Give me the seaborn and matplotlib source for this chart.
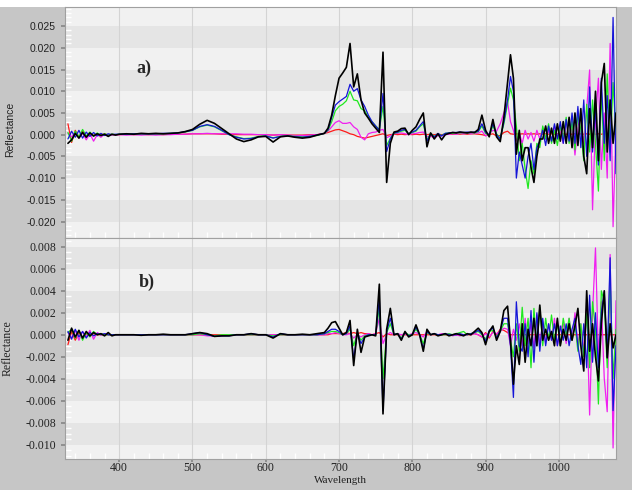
import numpy as np
import matplotlib
matplotlib.use("Agg")
import matplotlib.pyplot as plt
import seaborn as sns
from matplotlib.ticker import FormatStrFormatter, MultipleLocator

# Wavelength grid (nm): coarse where the spectra are flat, finer where they are noisy
wavelength = np.concatenate([np.arange(330, 400, 5), np.arange(400, 680, 10),
                             np.arange(680, 930, 5), np.arange(930, 1080, 4)])

# ---- panel a) first derivative, values in units of 1e-3 ----
a_black = [-2.0, -1.2, 0.3, -0.8, 0.5, -0.6, 0.4, -0.3, 0.2, -0.2, 0.1, -0.4, 0.1, -0.1,
           0.1, 0.2, 0.1, 0.3, 0.2, 0.3, 0.2, 0.3, 0.4, 0.7,
           1.2, 2.4, 3.3, 2.6, 1.4, 0.2, -1.0, -1.6, -1.2, -0.5,
           -0.4, -1.7, -0.5, -0.3, -0.6, -0.8, -0.6, -0.1,
           0.3, 1.5, 4.5, 9.0, 13.0, 14.2, 15.5, 21.0, 11.0, 14.0,
           8.0, 5.0, 3.8, 2.5, 1.5, 0.5, 19.0, -11.0, -2.0, 0.6,
           0.8, 1.4, 1.5, 0.0, 1.0, 1.8, 3.5, 5.0, -2.8, 0.4,
           -1.0, 0.2, -1.2, 0.0, 0.3, 0.5, 0.4, 0.6, 0.5, 0.4,
           0.6, 0.5, 1.2, 4.5, 1.0, -0.5, 3.5, -0.5, -1.6, 4.0,
           12.0, 18.4, 13.0, -4.5, 1.0, -6.0, -3.0, -3.0, -7.5, -11.0,
           -5.0, -1.0, -1.0, 2.0, -2.0, 1.5, -2.0, 2.5, -1.5, 3.0,
           -2.0, 4.0, -3.0, 5.0, -2.5, 6.0, -5.0, -9.0, 6.0, -3.0,
           10.0, -6.0, 12.0, 16.4, -4.0, 8.0, -2.0, 5.0]
a_blue = [-1.0, 0.8, -0.6, 1.0, -0.8, 0.6, -0.4, 0.5, -0.3, 0.3, -0.2, 0.2, 0.0, 0.1,
          0.1, 0.1, 0.2, 0.2, 0.2, 0.2, 0.3, 0.3, 0.4, 0.7,
          1.0, 1.9, 2.3, 1.9, 1.0, 0.0, -0.6, -1.0, -0.9, -0.5,
          -0.3, -0.8, -0.4, -0.3, -0.5, -0.6, -0.4, -0.1,
          0.3, 1.2, 4.0, 6.8, 7.6, 8.2, 8.8, 11.6, 10.0, 10.6,
          8.0, 6.5, 4.5, 3.0, 2.0, 1.0, 9.5, -3.9, -1.0, 0.4,
          0.6, 1.0, 1.2, 0.2, 0.6, 1.0, 2.0, 3.0, -1.5, 0.2,
          -0.5, 0.3, -0.3, 0.3, 0.4, 0.5, 0.5, 0.6, 0.5, 0.6,
          0.5, 0.6, 0.8, 2.5, 0.5, 0.0, 2.5, 0.0, -1.0, 3.0,
          8.0, 13.4, 10.0, -10.0, -4.0, -7.0, -10.0, -5.0, -2.0, -8.0,
          -3.0, -1.5, 1.0, -2.5, 2.0, -1.5, 2.5, -1.0, 3.0, -2.0,
          3.5, -1.5, 5.0, -2.0, 6.5, -3.0, 8.0, -5.0, 11.0, -4.0,
          6.0, -7.0, 13.0, -2.0, 9.0, -6.0, 27.0, -9.0]
a_green = [0.5, -1.5, 0.8, -0.5, 1.2, -0.3, 0.6, -0.4, 0.4, -0.2, 0.2, -0.1, 0.1, 0.0,
           0.1, 0.1, 0.2, 0.2, 0.2, 0.2, 0.2, 0.3, 0.4, 0.6,
           1.0, 1.8, 2.2, 1.8, 0.9, 0.0, -0.5, -0.9, -0.8, -0.4,
           -0.3, -0.7, -0.4, -0.3, -0.4, -0.5, -0.4, -0.2,
           0.3, 1.0, 3.0, 5.5, 6.5, 7.0, 7.8, 10.0, 8.0, 7.8,
           6.0, 5.5, 4.0, 3.0, 2.0, 1.2, 6.5, -2.5, -0.8, 0.3,
           0.5, 0.8, 1.0, 0.2, 0.5, 0.8, 1.8, 2.5, -1.2, 0.3,
           -0.4, 0.2, -0.2, 0.3, 0.4, 0.3, 0.5, 0.4, 0.5, 0.4,
           0.5, 0.4, 0.7, 2.0, 0.3, -0.2, 2.0, 0.2, -0.8, 2.5,
           7.0, 10.7, 8.0, 2.0, -6.0, -2.0, -8.0, -12.4, -6.0, -9.0,
           -2.0, -3.0, 2.0, -1.0, 2.5, -2.0, 1.0, -2.5, 2.0, -1.0,
           4.0, -2.0, 3.0, -3.5, 5.0, 1.0, -6.0, 7.0, -4.0, 8.0,
           -2.0, -13.0, 10.0, -6.0, 14.0, -4.0, 12.0, 0.0]
a_magenta = [0.3, -0.5, 0.6, -0.8, 0.4, -1.2, 0.2, -1.5, 0.0, -0.6, 0.1, -0.3, 0.0, -0.1,
             0.0, -0.1, 0.0, -0.1, 0.0, -0.1, 0.0, 0.0, 0.1, 0.1,
             0.2, 0.2, 0.3, 0.2, 0.2, 0.2, 0.2, 0.1, 0.1, 0.0,
             0.0, -0.1, 0.0, -0.1, -0.2, -0.2, -0.1, 0.0,
             0.3, 0.8, 1.8, 2.8, 3.2, 2.6, 2.6, 2.8, 1.8, 1.2,
             -0.6, -1.2, 0.2, 0.5, 0.6, 1.0, 1.2, -0.7, -0.3, 0.2,
             0.3, 0.4, 0.2, 0.0, 0.2, 0.3, 0.5, 0.6, -0.5, -0.3,
             -0.8, -0.2, -0.3, 0.0, 0.1, 0.2, 0.1, 0.3, 0.2, 0.3,
             0.2, 0.3, 0.4, 0.8, -0.3, 0.2, 1.0, 0.8, 2.5, 5.0,
             7.6, 3.0, 1.0, -1.5, 0.5, -2.0, 1.0, -1.0, 0.5, -1.5,
             1.0, -1.0, 1.5, -1.0, 1.0, -1.5, 2.0, -1.0, 1.0, -2.0,
             3.0, -1.0, 2.0, -4.7, 2.0, 4.0, -2.0, 6.0, 14.9, -17.3,
             3.0, 13.0, -8.0, 5.0, -10.0, 21.0, -21.2, 2.0]
a_red = [2.5, -1.8, 1.0, -0.6, 0.8, -0.4, 0.3, -0.2, 0.1, 0.0, 0.1, 0.0, 0.0, 0.0,
         0.0, 0.1, 0.0, 0.1, 0.0, 0.1, 0.0, 0.1, 0.1, 0.1,
         0.2, 0.2, 0.2, 0.2, 0.1, 0.1, 0.0, 0.0, 0.0, 0.0,
         0.0, -0.1, 0.0, -0.1, -0.1, -0.1, 0.0, 0.0,
         0.3, 0.5, 0.8, 1.1, 1.2, 0.9, 0.6, 0.2, 0.0, -0.4,
         -0.6, -0.8, -0.6, -0.4, -0.2, 0.0, 0.2, -0.2, 0.0, 0.1,
         0.0, 0.1, 0.0, 0.1, 0.0, 0.1, 0.0, 0.1, 0.0, 0.1,
         0.0, 0.1, 0.0, 0.1, 0.2, 0.1, 0.2, 0.1, 0.2, 0.1,
         0.2, 0.2, 0.1, 0.0, -0.2, 0.0, 0.2, -0.3, -0.2, 0.5,
         0.8, 0.2, 0.1, 0.2, 0.1, 0.2, 0.1, 0.2, 0.1, 0.2,
         0.1, 0.2, 0.1, 0.2, 0.1, 0.2, 0.1, 0.2, 0.1, 0.2,
         0.1, 0.2, 0.1, 0.2, 0.1, 0.2, 0.1, 0.2, 0.1, 0.2,
         0.1, 0.2, 0.1, 0.2, 0.1, 0.2, 0.1, 0.2]

# ---- panel b) second derivative, values in units of 1e-3 ----
b_black = [-0.5, 0.6, -0.2, 0.4, -0.3, 0.3, -0.1, 0.2, 0.0, 0.1, -0.1, 0.2, -0.1, 0.0,
           0.0, 0.0, 0.0, -0.05, 0.0, 0.0, 0.05, 0.0, 0.0, 0.0,
           0.1, 0.2, 0.1, -0.15, -0.1, -0.1, 0.0, 0.0, 0.1, 0.0,
           0.0, -0.3, 0.1, 0.0, 0.0, 0.05, 0.0, 0.1,
           0.2, 0.6, 1.1, 1.2, 0.6, 0.0, 0.2, 1.3, -2.8, 0.5,
           -1.6, -0.2, -0.1, 0.0, -0.1, 4.6, -7.2, 0.5, 2.4, 0.0,
           0.1, -0.5, 0.3, -0.2, 0.0, 0.9, 0.0, -1.5, 0.5, 0.0,
           0.1, -0.1, 0.0, 0.1, -0.1, 0.0, 0.1, 0.0, -0.1, 0.1,
           0.0, 0.3, 0.6, 0.2, -0.9, 0.3, 0.8, -0.5, 0.3, 2.2,
           2.6, -0.5, -4.5, -1.0, -2.7, 1.0, -2.5, 0.5, -1.0, 1.5,
           -1.0, 2.7, -0.5, 0.5, -0.5, 0.3, -1.0, 1.5, -1.0, 0.5,
           -0.5, 1.0, -0.5, 0.8, 2.4, -1.0, -3.3, 4.0, -1.5, 1.0,
           -2.0, -4.2, 1.0, 4.0, -2.1, 1.0, -1.2, 0.0]
b_blue = [0.3, -0.4, 0.5, -0.2, 0.3, -0.3, 0.2, -0.1, 0.1, 0.0, 0.1, 0.0, 0.0, 0.0,
          0.0, 0.0, 0.0, 0.0, 0.0, 0.0, 0.0, 0.0, 0.0, 0.0,
          0.1, 0.2, 0.0, -0.15, -0.1, -0.1, 0.0, 0.0, 0.1, 0.0,
          0.0, -0.2, 0.1, 0.0, 0.0, 0.0, 0.0, 0.0,
          0.1, 0.3, 0.5, 0.5, 0.3, 0.0, 0.1, 0.8, -2.2, 0.2,
          -0.8, -0.2, 0.0, 0.0, 0.0, 3.3, -6.9, 0.3, 1.5, 0.0,
          0.1, -0.4, 0.2, -0.1, 0.0, 0.7, 0.0, -1.3, 0.3, 0.0,
          0.1, 0.0, 0.0, 0.1, 0.0, 0.0, 0.0, 0.1, 0.0, 0.0,
          0.1, 0.2, 0.4, 0.1, -0.6, 0.4, 0.6, -0.3, 0.4, 1.5,
          1.5, -1.0, -5.7, 3.0, -1.0, -1.5, 1.0, -2.0, 2.2, -2.5,
          2.0, -1.5, 1.5, -1.0, 1.0, -0.5, 1.0, -1.0, 0.8, -0.5,
          1.0, -1.0, 0.5, 1.5, -1.0, -2.7, 1.0, -3.0, 3.6, -2.5,
          2.0, -3.0, 2.0, 3.9, -2.0, 7.0, -6.9, -1.0]
b_green = [0.2, 0.5, -0.3, 0.4, -0.5, 0.2, -0.2, 0.3, 0.0, 0.1, 0.0, 0.0, 0.0, 0.0,
           0.0, 0.0, 0.0, 0.0, 0.0, 0.0, 0.0, 0.0, 0.0, 0.0,
           0.0, 0.1, 0.0, -0.1, 0.0, 0.0, 0.0, 0.0, 0.0, 0.0,
           0.0, -0.1, 0.0, 0.0, 0.0, 0.0, 0.0, 0.0,
           0.1, 0.2, 0.3, 0.3, 0.2, 0.0, 0.1, 0.5, -1.0, 0.1,
           -0.5, -0.1, 0.0, 0.0, 0.0, 2.5, -4.0, 0.2, 1.0, 0.0,
           0.1, -0.3, 0.2, 0.0, 0.0, 0.5, 0.0, -0.8, 0.2, 0.0,
           0.1, 0.0, 0.0, 0.0, 0.1, 0.0, 0.1, 0.2, 0.3, 0.0,
           0.1, 0.2, 0.3, 0.0, -0.4, 0.3, 0.4, -0.2, 0.3, 1.0,
           1.0, -0.5, -2.0, 1.0, -1.5, 2.5, -1.0, 1.5, -3.0, 2.4,
           -1.0, 2.5, -1.0, 1.5, -0.5, 1.8, -0.5, 1.0, -1.0, 1.5,
           0.0, 1.5, -0.5, 1.0, -1.5, 1.0, -2.0, 2.0, -3.0, 3.0,
           0.5, -6.3, 4.0, 3.0, -3.0, 5.1, -4.0, 0.5]
b_magenta = [0.2, -0.3, 0.4, -0.5, 0.3, -0.2, 0.4, -0.4, 0.2, 0.0, 0.1, 0.0, 0.0, 0.0,
             0.0, 0.0, 0.0, 0.0, 0.0, 0.0, 0.0, 0.0, 0.0, 0.0,
             0.0, 0.0, -0.1, -0.1, -0.1, 0.0, 0.0, 0.0, 0.0, 0.0,
             0.0, 0.0, 0.0, 0.0, 0.0, 0.0, 0.0, 0.0,
             0.0, 0.1, 0.1, 0.2, 0.1, 0.0, 0.0, 0.1, -0.3, 0.0,
             -0.2, 0.0, 0.1, 0.0, 0.1, 1.5, -0.8, 0.0, 0.2, 0.0,
             0.1, 0.0, 0.1, 0.0, 0.1, 0.2, 0.0, -0.2, 0.3, 0.0,
             0.1, 0.0, 0.1, 0.0, 0.1, -0.1, 0.0, -0.1, 0.0, 0.1,
             0.0, 0.1, 0.0, -0.2, 0.1, -0.2, 0.2, 0.1, 0.3, 0.6,
             0.5, -1.0, 0.5, -0.5, 1.0, -1.0, 1.5, -0.8, 1.0, -1.2,
             1.8, -1.0, 1.2, -0.8, 1.0, -0.5, 1.5, -1.0, 0.5, 1.0,
             -0.8, 1.5, -0.5, 2.0, -1.0, 1.0, -1.5, 2.5, -7.3, 2.0,
             7.9, -2.0, 3.0, -4.0, -7.0, 7.3, -10.3, 3.1]
b_red = [-0.9, 0.3, -0.5, 0.2, -0.3, 0.1, -0.1, 0.1, 0.0, 0.0, 0.0, 0.0, 0.0, 0.0,
         0.0, 0.0, 0.0, 0.0, 0.0, 0.0, 0.0, 0.0, 0.0, 0.0,
         0.0, 0.0, 0.0, 0.0, 0.0, 0.0, 0.0, 0.0, 0.0, 0.0,
         0.0, 0.0, 0.0, 0.0, 0.0, 0.0, 0.0, 0.0,
         0.0, 0.0, 0.1, 0.1, 0.1, 0.1, 0.2, 0.1, 0.2, 0.1,
         0.2, 0.1, 0.1, 0.0, 0.1, 0.2, -0.2, 0.1, 0.0, 0.0,
         0.0, 0.0, 0.0, 0.0, 0.0, 0.0, 0.0, 0.0, 0.0, 0.0,
         0.0, 0.0, 0.0, 0.0, 0.0, 0.0, 0.0, 0.0, 0.0, 0.0,
         0.0, 0.1, 0.0, -0.2, 0.2, -0.3, 0.3, 0.0, 0.5, 0.4,
         0.2, 0.0, 0.0, 0.0, 0.0, 0.0, 0.0, 0.0, 0.0, 0.0,
         0.0, 0.0, 0.0, 0.0, 0.0, 0.0, 0.0, 0.0, 0.0, 0.0,
         0.0, 0.0, 0.0, 0.0, 0.0, 0.0, 0.0, 0.0, 0.0, 0.0,
         0.0, 0.0, 0.0, 0.0, 0.0, 0.0, 0.0, 0.0]

x_ticks = [400, 500, 600, 700, 800, 900, 1000]
a_ticks = [-0.020, -0.015, -0.010, -0.005, 0.000, 0.005, 0.010, 0.015, 0.020, 0.025]
b_ticks = [-0.010, -0.008, -0.006, -0.004, -0.002, 0.000, 0.002, 0.004, 0.006, 0.008]

colors = {"red": "#ff1a1a", "magenta": "#f020f0", "green": "#1fe81f",
          "blue": "#1515d8", "black": "#000000"}

sns.set_theme(style="white")
plt.rcParams["axes.unicode_minus"] = False

fig = plt.figure(figsize=(6.32, 4.9), dpi=100)
fig.patch.set_facecolor("white")
# gray window frame behind both panels
fig.add_artist(plt.Rectangle((0, 0), 1, 1 - 7 / 490, transform=fig.transFigure,
                             facecolor="#c6c6c6", edgecolor="none", zorder=-10))

ax_a = fig.add_axes([65 / 632, 1 - 238 / 490, 551 / 632, 231 / 490])
ax_b = fig.add_axes([65 / 632, 1 - 459 / 490, 551 / 632, 221 / 490])


def style_panel(ax, ylim, step, dark_parity, ticks, minor, family, size):
    ax.set_xlim(326, 1078)
    ax.set_ylim(*ylim)
    # alternating horizontal bands
    k0 = int(np.floor(ylim[0] / step)) - 1
    k1 = int(np.ceil(ylim[1] / step)) + 1
    for k in range(k0, k1):
        col = "#e5e5e5" if k % 2 == dark_parity else "#f1f1f1"
        ax.axhspan(k * step, (k + 1) * step, color=col, lw=0, zorder=0)
    for xv in x_ticks:
        ax.axvline(xv, color="#d4d4d4", lw=0.8, zorder=0.5)
    ax.set_xticks(x_ticks)
    ax.xaxis.set_minor_locator(MultipleLocator(20))
    ax.set_yticks(ticks)
    ax.yaxis.set_minor_locator(MultipleLocator(minor))
    ax.yaxis.set_major_formatter(FormatStrFormatter("%.3f"))
    ax.tick_params(which="major", direction="out", length=3, color="#888888",
                   left=True, bottom=True, labelsize=size, labelcolor="#222222")
    ax.tick_params(which="minor", direction="in", length=4, color="white",
                   left=True, bottom=True)
    for lab in ax.get_yticklabels() + ax.get_xticklabels():
        lab.set_family(family)
    for sp in ax.spines.values():
        sp.set_color("#a0a0a0")
        sp.set_linewidth(0.8)


style_panel(ax_a, (-0.0238, 0.0294), 0.005, 0, a_ticks, 0.001, "Liberation Sans", 7.5)
style_panel(ax_b, (-0.0113, 0.0088), 0.002, 1, b_ticks, 0.0005, "Liberation Serif", 8.5)
ax_a.tick_params(axis="x", labelbottom=False)
ax_b.tick_params(axis="x", which="major", length=2, pad=0.5)

panels = [
    (ax_a, {"red": a_red, "magenta": a_magenta, "green": a_green, "blue": a_blue, "black": a_black}),
    (ax_b, {"red": b_red, "magenta": b_magenta, "green": b_green, "blue": b_blue, "black": b_black}),
]
for ax, series in panels:
    for name, vals in series.items():
        assert len(vals) == len(wavelength), (name, len(vals))
        sns.lineplot(x=wavelength, y=np.array(vals) * 1e-3, ax=ax, color=colors[name],
                     lw=1.2 if name == "black" else 0.9, errorbar=None, sort=True,
                     zorder=3)

ax_a.set_xlabel("")
ax_a.set_ylabel("Reflectance", family="Liberation Sans", fontsize=7.5, color="#222222")
ax_a.yaxis.set_label_coords(-0.091, 0.47)
ax_b.set_ylabel("Reflectance", family="Liberation Serif", fontsize=8.5, color="#222222")
ax_b.yaxis.set_label_coords(-0.093, 0.5)
ax_b.set_xlabel("Wavelength", family="Liberation Serif", fontsize=8, color="#222222")
ax_b.xaxis.set_label_coords(0.5, -0.079)

ax_a.text(424, 0.0153, "a)", family="Liberation Serif", fontweight="bold",
          fontsize=13, va="center", ha="left", zorder=5)
ax_b.text(427, 0.0048, "b)", family="Liberation Serif", fontweight="bold",
          fontsize=13, va="center", ha="left", zorder=5)

fig.savefig("out.png", dpi=100, facecolor=fig.get_facecolor())
